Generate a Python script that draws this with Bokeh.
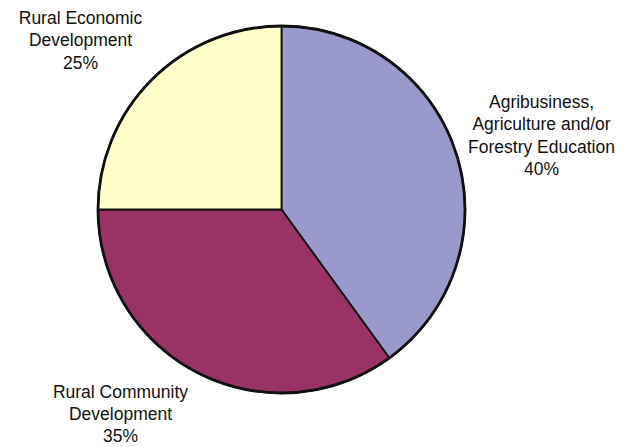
from bokeh.plotting import figure
from bokeh.models import Range1d, ColumnDataSource
from bokeh.core.properties import value
from bokeh.embed import file_html
from bokeh.resources import INLINE
import math

categories = ["Agribusiness, Agriculture and/or Forestry Education",
              "Rural Community Development",
              "Rural Economic Development"]
shares = [40, 35, 25]
colors = ["#9999CC", "#993366", "#FFFFCC"]

label_lines = [
    ["Agribusiness,", "Agriculture and/or", "Forestry Education", "40%"],
    ["Rural Community", "Development", "35%"],
    ["Rural Economic", "Development", "25%"],
]

W, H = 633, 447
p = figure(width=W, height=H, output_backend="svg", toolbar_location=None,
           x_range=Range1d(0, W), y_range=Range1d(0, H),
           x_axis_location=None, y_axis_location=None, min_border=0)
p.grid.visible = False
p.outline_line_color = None
p.background_fill_color = "white"

cx, cy, r = 281, 447 - 209, 183.5
total = sum(shares)
starts, ends = [], []
a = math.pi / 2
for s in shares:
    starts.append(a)
    a -= s / total * 2 * math.pi
    ends.append(a)

src = ColumnDataSource(dict(start=starts, end=ends, color=colors, cat=categories))
p.wedge(x=cx, y=cy, radius=r, start_angle="start", end_angle="end", direction="clock",
        fill_color="color", line_color="#111111", line_width=1.8, source=src)
p.scatter(x=[cx], y=[cy], size=2 * r, fill_color=None, line_color="#111111",
          line_width=2.8, marker="circle")

anchors = [(541, 101), (120, 391), (80, 17)]
spacings = [22.5, 22.0, 22.5]
xs, ys, txt = [], [], []
for (ax, ay), sp, lines in zip(anchors, spacings, label_lines):
    for i, t in enumerate(lines):
        xs.append(ax)
        ys.append(447 - (ay + i * sp))
        txt.append(t)
p.text(x=xs, y=ys, text=txt, text_align="center", text_baseline="middle",
       text_font=value("Liberation Sans"), text_font_size="17.5px", text_color="#111111")

open("out.html", "w").write(file_html(p, INLINE))
